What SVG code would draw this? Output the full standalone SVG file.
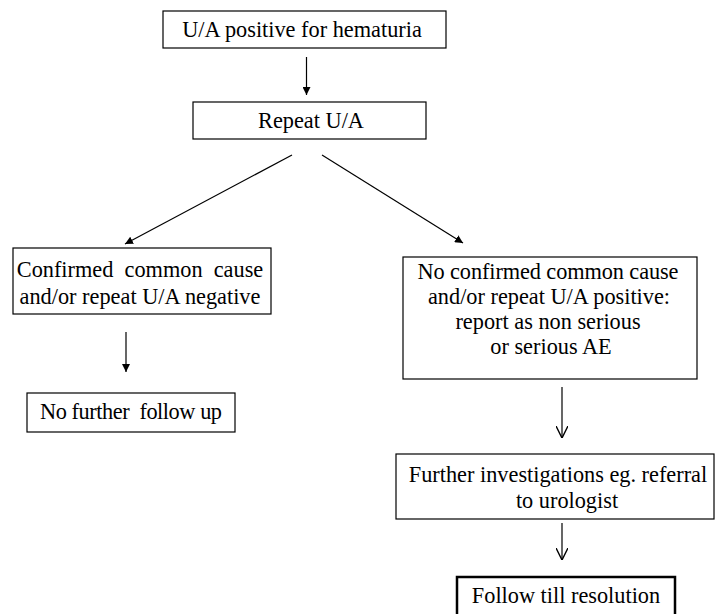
<svg xmlns="http://www.w3.org/2000/svg" width="715" height="614" viewBox="0 0 715 614">
<style>
.box{fill:#fff;stroke:#000;stroke-width:1.2}
.thick{stroke-width:2.5}
.t{font-family:'Liberation Serif','Times New Roman',Times,serif;font-size:22.3px;fill:#000;text-anchor:middle;white-space:pre}
.ln{stroke:#000;stroke-width:1.2;fill:none}
</style>
<defs>
<marker id="fill" viewBox="0 0 10 10" refX="10" refY="5" markerWidth="8" markerHeight="8" markerUnits="userSpaceOnUse" orient="auto">
<path d="M0,0 L10,5 L0,10 z" fill="#000"/>
</marker>
<marker id="open" viewBox="0 0 10 10" refX="10" refY="5" markerWidth="12" markerHeight="12" markerUnits="userSpaceOnUse" orient="auto">
<path d="M0,0 L10,5 L0,10" fill="none" stroke="#000" stroke-width="1.2"/>
</marker>
</defs>
<g id="connectors">
<line class="ln" x1="306.5" y1="57" x2="306.5" y2="95" marker-end="url(#fill)"/>
<line class="ln" x1="292" y1="155" x2="125" y2="244" marker-end="url(#fill)"/>
<line class="ln" x1="322" y1="155" x2="463" y2="243" marker-end="url(#fill)"/>
<line class="ln" x1="126" y1="332" x2="126" y2="372" marker-end="url(#fill)"/>
<line class="ln" x1="562" y1="387" x2="562" y2="438" marker-end="url(#open)"/>
<line class="ln" x1="562" y1="523" x2="562" y2="560" marker-end="url(#open)"/>
</g>
<g id="n1">
<rect class="box" x="163" y="11" width="283" height="37"/>
<text class="t" x="302" y="37">U/A positive for hematuria</text>
</g>
<g id="n2">
<rect class="box" x="193" y="102" width="233" height="37"/>
<text class="t" x="311" y="128">Repeat U/A</text>
</g>
<g id="n3">
<rect class="box" x="13" y="248" width="258" height="66"/>
<text class="t" x="140" y="277" xml:space="preserve">Confirmed  common  cause</text>
<text class="t" x="140" y="304">and/or repeat U/A negative</text>
</g>
<g id="n4">
<rect class="box" x="27" y="393" width="208" height="39"/>
<text class="t" x="131" y="419" xml:space="preserve" textLength="182" lengthAdjust="spacing">No further  follow up</text>
</g>
<g id="n5">
<rect class="box" x="403" y="257" width="294" height="122"/>
<text class="t" x="548" y="279" textLength="261" lengthAdjust="spacing">No confirmed common cause</text>
<text class="t" x="549" y="304">and/or repeat U/A positive:</text>
<text class="t" x="548" y="329">report as non serious</text>
<text class="t" x="551" y="354">or serious AE</text>
</g>
<g id="n6">
<rect class="box" x="396" y="454" width="318" height="65"/>
<text class="t" x="558" y="482">Further investigations eg. referral</text>
<text class="t" x="567" y="508">to urologist</text>
</g>
<g id="n7">
<rect class="box thick" x="457" y="577" width="218" height="40"/>
<text class="t" x="566" y="603">Follow till resolution</text>
</g>
</svg>
